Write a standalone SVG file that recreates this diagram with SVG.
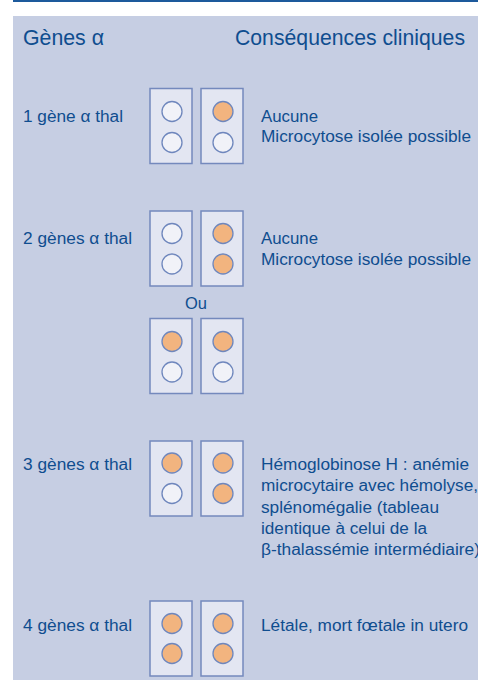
<svg xmlns="http://www.w3.org/2000/svg" width="478" height="680" viewBox="0 0 478 680">
<style>
text{font-family:"Liberation Sans",Arial,sans-serif;fill:#0f4d8f}
.h{font-size:21.5px}
.t{font-size:16px}
.box{fill:#e3e6f2;stroke:#7489bd;stroke-width:1.5}
.w{fill:#f1f2f8;stroke:#6f87bd;stroke-width:1.3}
.o{fill:#f2b47f;stroke:#6f87bd;stroke-width:1.3}
</style>
<rect x="0" y="0" width="478" height="680" fill="#ffffff"/>
<rect x="13" y="0" width="465" height="2" fill="#1d5a9c"/>
<rect x="13" y="16" width="465" height="664" fill="#c6cee3"/>
<g id="header">
<text class="h" x="23" y="45" textLength="81" lengthAdjust="spacingAndGlyphs">Gènes α</text>
<text class="h" x="235" y="45" textLength="230" lengthAdjust="spacingAndGlyphs">Conséquences cliniques</text>
</g>
<g id="row1">
<text class="t" x="23" y="122" textLength="100" lengthAdjust="spacingAndGlyphs">1 gène α thal</text>
<rect class="box" x="150" y="88.5" width="42" height="75"/>
<rect class="box" x="201" y="88.5" width="42" height="75"/>
<circle class="w" cx="172" cy="111.5" r="10"/>
<circle class="w" cx="172" cy="142.5" r="10"/>
<circle class="o" cx="223" cy="111.5" r="10"/>
<circle class="w" cx="223" cy="142.5" r="10"/>
<text class="t" x="261" y="122" textLength="57" lengthAdjust="spacingAndGlyphs">Aucune</text>
<text class="t" x="261" y="142" textLength="210" lengthAdjust="spacingAndGlyphs">Microcytose isolée possible</text>
</g>
<g id="row2">
<text class="t" x="23" y="243.5" textLength="109" lengthAdjust="spacingAndGlyphs">2 gènes α thal</text>
<rect class="box" x="150" y="211" width="42" height="75"/>
<rect class="box" x="201" y="211" width="42" height="75"/>
<circle class="w" cx="172" cy="233.5" r="10"/>
<circle class="w" cx="172" cy="264" r="10"/>
<circle class="o" cx="223" cy="233.5" r="10"/>
<circle class="o" cx="223" cy="264" r="10"/>
<text class="t" x="261" y="243.5" textLength="57" lengthAdjust="spacingAndGlyphs">Aucune</text>
<text class="t" x="261" y="264.5" textLength="210" lengthAdjust="spacingAndGlyphs">Microcytose isolée possible</text>
</g>
<g id="or">
<text class="t" x="185" y="309" textLength="22" lengthAdjust="spacingAndGlyphs">Ou</text>
</g>
<g id="row2b">
<rect class="box" x="150" y="318.5" width="42" height="75"/>
<rect class="box" x="201" y="318.5" width="42" height="75"/>
<circle class="o" cx="172" cy="341.5" r="10"/>
<circle class="w" cx="172" cy="372" r="10"/>
<circle class="o" cx="223" cy="341.5" r="10"/>
<circle class="w" cx="223" cy="372" r="10"/>
</g>
<g id="row3">
<text class="t" x="23" y="469.5" textLength="109" lengthAdjust="spacingAndGlyphs">3 gènes α thal</text>
<rect class="box" x="150" y="441" width="42" height="75"/>
<rect class="box" x="201" y="441" width="42" height="75"/>
<circle class="o" cx="172" cy="463" r="10"/>
<circle class="w" cx="172" cy="493.5" r="10"/>
<circle class="o" cx="223" cy="463" r="10"/>
<circle class="o" cx="223" cy="493.5" r="10"/>
<text class="t" x="261" y="469.5" textLength="208" lengthAdjust="spacingAndGlyphs">Hémoglobinose H : anémie</text>
<text class="t" x="261" y="491" textLength="217" lengthAdjust="spacingAndGlyphs">microcytaire avec hémolyse,</text>
<text class="t" x="261" y="512.5" textLength="178" lengthAdjust="spacingAndGlyphs">splénomégalie (tableau</text>
<text class="t" x="261" y="533.5" textLength="166" lengthAdjust="spacingAndGlyphs">identique à celui de la</text>
<text class="t" x="261" y="555" textLength="219" lengthAdjust="spacingAndGlyphs">β-thalassémie intermédiaire)</text>
</g>
<g id="row4">
<text class="t" x="23" y="631" textLength="109" lengthAdjust="spacingAndGlyphs">4 gènes α thal</text>
<rect class="box" x="150" y="601" width="42" height="75"/>
<rect class="box" x="201" y="601" width="42" height="75"/>
<circle class="o" cx="172" cy="623.5" r="10"/>
<circle class="o" cx="172" cy="653.5" r="10"/>
<circle class="o" cx="223" cy="623.5" r="10"/>
<circle class="o" cx="223" cy="653.5" r="10"/>
<text class="t" x="261" y="631" textLength="207" lengthAdjust="spacingAndGlyphs">Létale, mort fœtale in utero</text>
</g>
</svg>
